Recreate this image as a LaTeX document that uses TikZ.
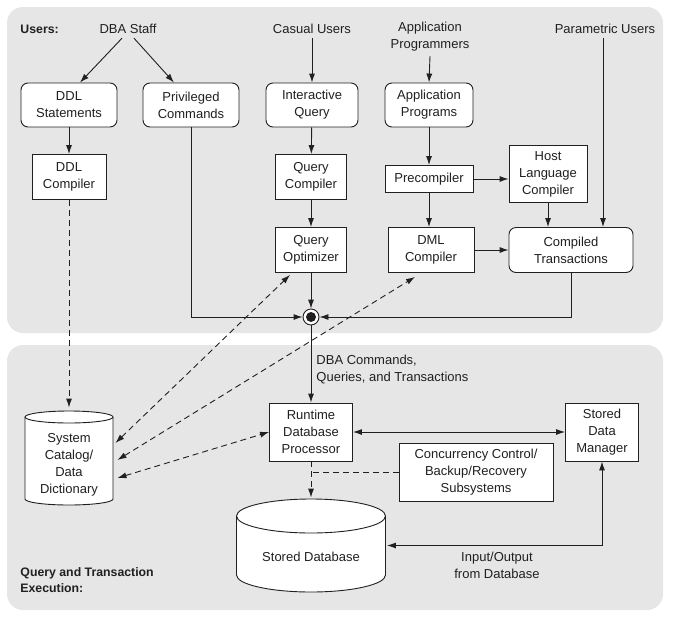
\documentclass[tikz,border=0pt]{standalone}
\usepackage{fontspec}
\setmainfont{Liberation Sans}
\usetikzlibrary{arrows.meta}
\usetikzlibrary{calc}

\definecolor{panelgray}{HTML}{E6E6E6}
\definecolor{inkgray}{HTML}{231F20}

% cylinder outline: centre x, centre y, width, height, cap radius
\newcommand{\dbcyl}[5]{%
  \fill[white] (#1-#3/2, #2-#4/2+#5) -- (#1-#3/2, #2+#4/2-#5)
    arc[start angle=180, end angle=360, x radius={#3pt/2}, y radius={#5pt}]
    -- (#1+#3/2, #2-#4/2+#5)
    arc[start angle=0, end angle=180, x radius={#3pt/2}, y radius={#5pt}] -- cycle;
  \draw (#1-#3/2, #2-#4/2+#5) -- (#1-#3/2, #2+#4/2-#5)
    arc[start angle=180, end angle=360, x radius={#3pt/2}, y radius={#5pt}]
    -- (#1+#3/2, #2-#4/2+#5);
  \draw (#1, #2-#4/2+#5) ellipse[x radius={#3pt/2}, y radius={#5pt}];
}

\begin{document}
\begin{tikzpicture}[x=1pt, y=-1pt, line width=0.9pt, color=inkgray,
    font=\fontsize{13}{17}\selectfont,
    rbox/.style={draw, fill=white, rounded corners=7pt, align=center, inner sep=0pt},
    sbox/.style={draw, fill=white, align=center, inner sep=0pt},
    dbase/.style={rectangle, inner sep=0pt, align=center},
    lbl/.style={align=center, inner sep=1pt},
    hdr/.style={align=left, inner sep=0pt, anchor=west, font=\fontsize{12.3}{16.5}\selectfont\bfseries},
    arr/.style={-{Latex[length=9pt, width=6pt]}},
    dblarr/.style={{Latex[length=9pt, width=6pt]}-{Latex[length=9pt, width=6pt]}},
    dashln/.style={dash pattern=on 6pt off 4pt},
    jn/.style={circle, draw, fill=white, minimum size=16pt, inner sep=0pt,
      path picture={\fill[inkgray] (path picture bounding box.center) circle (5pt);}}]

  \useasboundingbox (0,0) rectangle (674,619);

  % panels
  \fill[panelgray, rounded corners=16pt] (7,7) rectangle (663,333);
  \fill[panelgray, rounded corners=16pt] (7,345) rectangle (663,610);

  % users
  \node[hdr] (users) at (20,29) {Users:};
  \node[lbl] (dba) at (128,29) {DBA Staff};
  \node[lbl] (casual) at (312,29) {Casual Users};
  \node[lbl] (apprg) at (430,37) {Application\\Programmers};
  \node[lbl] (param) at (605,29) {Parametric Users};

  \node[rbox, minimum width=96pt, minimum height=44pt] (ddls) at (69,105) {DDL\\Statements};
  \node[rbox, minimum width=96pt, minimum height=44pt] (priv) at (191,105) {Privileged\\Commands};
  \node[rbox, minimum width=92pt, minimum height=44pt] (iq) at (312,105) {Interactive\\Query};
  \node[rbox, minimum width=88pt, minimum height=44pt] (appp) at (429,105) {Application\\Programs};

  \node[sbox, minimum width=74pt, minimum height=45pt] (ddlc) at (69,177) {DDL\\Compiler};
  \node[sbox, minimum width=71pt, minimum height=45pt] (qc) at (311,177) {Query\\Compiler};
  \node[sbox, minimum width=88pt, minimum height=27pt] (pre) at (429,179) {Precompiler};
  \node[sbox, minimum width=78pt, minimum height=57pt] (hlc) at (548,174) {Host\\Language\\Compiler};
  \node[sbox, minimum width=71pt, minimum height=45pt] (qo) at (311,250) {Query\\Optimizer};
  \node[sbox, minimum width=86pt, minimum height=45pt] (dml) at (431,250) {DML\\Compiler};
  \node[rbox, minimum width=124pt, minimum height=45pt] (ct) at (571,250) {Compiled\\Transactions};
  \node[jn] (jn) at (311,317) {};

  \draw[arr] ($(dba.south)+(-6,3)$) -- ($(ddls.north)+(11,0)$);
  \draw[arr] ($(dba.south)+(6,3)$) -- ($(priv.north)+(-17,0)$);
  \draw[arr] ($(casual.south)+(0,3)$) -- (iq.north);
  \draw[arr] ($(apprg.south)+(0,3)$) -- (appp.north);
  \draw[arr] ($(param.south)+(-2,3)$) -- ($(param.south |- ct.north)+(-2,0)$);
  \draw[arr] (ddls) -- (ddlc);
  \draw[arr] (iq) -- (qc);
  \draw[arr] (qc) -- (qo);
  \draw[arr] (qo) -- (jn);
  \draw[arr] (appp) -- (pre);
  \draw[arr] (pre.south) -- (pre.south |- dml.north);
  \draw[arr] (pre.east) -- (pre.east -| hlc.west);
  \draw[arr] (hlc.south) -- (hlc.south |- ct.north);
  \draw[arr] (dml) -- (ct);
  \draw[arr] (priv.south) |- (jn.west);
  \draw[arr] (ct.south) |- (jn.east);

  % query and transaction execution
  \node[lbl, align=left, anchor=west] (cmds) at (315,370) {DBA Commands,\\Queries, and Transactions};
  \dbcyl{69}{458}{88}{94}{6}
  \node[dbase, minimum width=90pt, minimum height=96pt] (cat) at (69,458) {\rule{0pt}{23.4pt}System\\Catalog/\\Data\\Dictionary};
  \node[sbox, minimum width=83pt, minimum height=58pt] (rdp) at (311,432) {Runtime\\Database\\Processor};
  \node[sbox, minimum width=73pt, minimum height=58pt] (sdm) at (602,432) {Stored\\Data\\Manager};
  \node[sbox, minimum width=154pt, minimum height=58pt] (conc) at (476,472) {Concurrency Control/\\Backup/Recovery\\Subsystems};
  \dbcyl{311}{545.5}{149}{93}{17}
  \node[dbase, minimum width=151pt, minimum height=95pt] (sdb) at (311,545.5) {\rule{0pt}{32pt}Stored Database};
  \node[lbl] (io) at (497,565) {Input/Output\\from Database};
  \node[hdr] (qte) at (20,580) {Query and Transaction\\Execution:};

  \draw[arr] (jn) -- (rdp);
  \draw[dashln, arr, shorten >=2pt] (ddlc.south) -- (ddlc.south |- cat.north);
  \draw[dashln, dblarr] ($(cat.east)+(1,-15)$) -- ($(qo.south)+(-21,2)$);
  \draw[dashln, dblarr] ($(cat.east)+(3,2)$) -- ($(dml.south)+(-16,4)$);
  \draw[dashln, dblarr] ($(cat.east)+(3,20)$) -- (rdp.west);
  \draw[dashln, arr] (rdp) -- (sdb);
  \draw[dashln] (conc.west) -- (conc.west -| rdp.south);
  \draw[dblarr] (rdp) -- (sdm);
  \draw[dblarr] (sdm.south) |- (sdb.east);
\end{tikzpicture}
\end{document}
